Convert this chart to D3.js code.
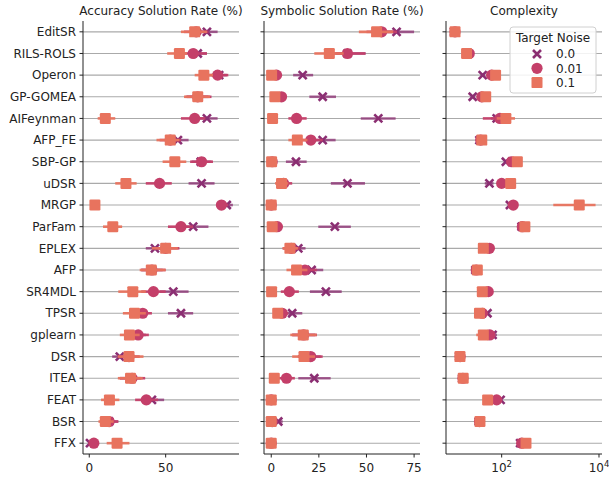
<!DOCTYPE html>
<html>
<head>
<meta charset="utf-8">
<script src="https://cdn.jsdelivr.net/npm/d3@7"></script>
<style>
  body { margin: 0; background: #fff; }
  text { font-family: "DejaVu Sans", sans-serif; fill: #222; }
</style>
</head>
<body>
<div id="chart"></div>
<script>
// 방법 목록
const methods = ["EditSR", "RILS-ROLS", "Operon", "GP-GOMEA", "AIFeynman", "AFP_FE", "SBP-GP", "uDSR", "MRGP", "ParFam",
  "EPLEX", "AFP", "SR4MDL", "TPSR", "gplearn", "DSR", "ITEA", "FEAT", "BSR", "FFX"];

const noiseLevels = ["0.0", "0.01", "0.1"];

// [mean, lo, hi] per method, noise 0.0 / 0.01 / 0.1
const accNoise0 = [[77,72,84],[71,65,77],[85,80,90],[71,64,78],[77,70,84],[58,51,65],[73,67,80],[73.5,65,82],[90,87,94],[68,61,78],
  [43,37,50],[41,34,48],[55,46,65],[60,51.5,68],[30,24,37],[20,15,26],[27,20,34],[41,34,49],[13,8,19],[0.5,0,2]];
const accNoise1 = [[70,62,78],[68,61,77],[84,78,91],[71,63,80],[69,60,76],[53,46,60],[73.5,66,81],[46,37,54],[86.5,83,91],[60,51.5,68],
  [50,43,59],[41,34,50],[42,34,50],[35,28,41],[32,25,39],[26,19,33],[28,20,36.6],[37.3,30,45],[13,8,19],[3,1,6]];
const accNoise2 = [[69,60,77],[59,51,64],[75,69,81],[71,62,79],[10.5,5.5,17],[53,44,59],[56,48,63.5],[24,17,31],[3.7,2,6],[15.4,9,21.5],
  [50,41,58],[40.6,33,50],[28.5,19,37],[29.6,22,37],[26.3,20,33],[26,18.6,35.5],[27,18.7,35],[13.2,7.7,19.7],[10.5,6,16],[18.2,11.4,26.3]];

const symNoise0 = [[65.8,56,75],[40,34,49.5],[16.5,11.5,22],[27,20,34],[56.2,47,65.3],[27,20,33.8],[13,7.7,18.6],[40,31.3,49.2],[0,0,0.5],[33.4,24.7,41.8],
  [14.2,10,18],[21.2,15,27.3],[28.7,20.3,37],[11,6,16.3],[17,11,23],[20,14,26],[22.6,14.2,31.2],[0,0,0.5],[3.7,1,6],[0,0,0.5]];
const symNoise1 = [[58,50,66],[40,33,49.5],[2.8,1,5],[5.4,3,8],[13.3,9,18.6],[20.8,15,27],[0.5,0,1.5],[6.5,3,11],[0,0,0.5],[3.2,1,6],
  [10.5,6,15],[17.7,12,24],[9.5,5,14.5],[5.8,2.5,9],[17,11,24],[20.7,14,27],[8,4,12.4],[0,0,0.5],[0.5,0,2],[0,0,0.5]];
const symNoise2 = [[55.3,46,64],[30.5,22.6,38],[0.2,0,1],[1.9,0.5,4],[0.7,0,2],[13.7,9,19],[0.2,0,1],[5.4,2,9],[0,0,0.5],[0.5,0,2],
  [9.8,6,14],[13.3,8,19],[0.2,0,1],[3.4,1,6],[16.8,10,23.8],[17.2,11,23],[1.6,0,3.5],[0,0,0.5],[0,0,1],[0,0,0.5]];

const cxNoise0 = [[10.5,10,11.5],[20,18,22],[40.7,37,45],[25.4,23,28],[79,60,100],[35,33,37],[122,112,132],[56,45,68],[148,140,158],[257,240,275],
  [52,48,56],[29,27,31],[48,44,52],[51,47,55],[65,58,80],[13.5,12.5,14.5],[15.5,14.5,16.5],[95,88,102],[34,32,36],[240,230,250]];
const cxNoise1 = [[11,10,12],[21.6,19,24],[62,56,68],[39,35,43],[92,41,150],[37,35,39],[160,148,172],[100,90,110],[173,160,188],[265,245,285],
  [56,52,60],[30,28,32],[53,49,57],[40,37,43],[57,50,65],[14,13,15],[16,15,17],[79,73,86],[35,33,37],[257,245,270]];
const cxNoise2 = [[11,10,12],[19,17,21],[75,68,83],[47,43,52],[122,79,188],[39,36,42],[210,195,225],[153,140,166],[3930,1150,8500],[300,280,320],
  [42,39,46],[31.6,29,34],[40,37,43],[35,32,38],[42,30,50],[13.9,13,15],[16.2,15,17.5],[51.5,47,56],[35.8,33,38],[316,295,335]];

const accTicks = [0, 50];
const symTicks = [0, 25, 50, 75];
const cxTicks = [100, 10000];

const width = 609;
const height = 479;
const colors = ["#8b2e72", "#c43f69", "#e8735e"];

const svg = d3.select("#chart").append("svg")
  .attr("width", width)
  .attr("height", height);

const y = d3.scalePoint()
  .domain(methods)
  .range([21, 454])
  .padding(0.5);

const panels = [
  { title: "Accuracy Solution Rate (%)", x0: 83, x1: 239, series: [accNoise0, accNoise1, accNoise2],
    scale: d3.scaleLinear().domain([-4.1, 98]), ticks: accTicks, log: false, labels: true },
  { title: "Symbolic Solution Rate (%)", x0: 264, x1: 420, series: [symNoise0, symNoise1, symNoise2],
    scale: d3.scaleLinear().domain([-3.8, 78.1]), ticks: symTicks, log: false, labels: false },
  { title: "Complexity", x0: 446, x1: 602, series: [cxNoise0, cxNoise1, cxNoise2],
    scale: d3.scaleLog().domain([7.18, 11530]), ticks: cxTicks, log: true, labels: false }
];

const crossPath = "M-4,-4L4,4M-4,4L4,-4";

panels.forEach(p => {
  const x = p.scale.range([p.x0, p.x1]);
  const g = svg.append("g");

  // 가로 격자선
  g.selectAll(".grid")
    .data(methods)
    .enter()
    .append("line")
    .attr("x1", p.x0)
    .attr("x2", p.x1)
    .attr("y1", d => y(d))
    .attr("y2", d => y(d))
    .attr("stroke", "#aaa")
    .attr("stroke-width", 1.1);

  // 제목
  g.append("text")
    .attr("x", (p.x0 + p.x1) / 2)
    .attr("y", 15)
    .attr("text-anchor", "middle")
    .style("font-size", "12px")
    .text(p.title);

  // 시리즈 (오차 막대 + 마커)
  p.series.forEach((data, si) => {
    const col = colors[si];
    g.selectAll(".err" + si)
      .data(data)
      .enter()
      .append("line")
      .attr("x1", d => x(Math.max(d[1], x.domain()[0])))
      .attr("x2", d => x(d[2]))
      .attr("y1", (d, i) => y(methods[i]))
      .attr("y2", (d, i) => y(methods[i]))
      .attr("stroke", col)
      .attr("stroke-opacity", si === 0 ? 0.75 : 0.95)
      .attr("stroke-width", 2.6);

    const marks = g.selectAll(".mk" + si)
      .data(data)
      .enter()
      .append("g")
      .attr("transform", (d, i) => `translate(${x(Math.max(d[0], x.domain()[0]))},${y(methods[i])})`);

    if (si === 0) {
      marks.append("path")
        .attr("d", crossPath)
        .attr("stroke", col)
        .attr("stroke-width", 2.6)
        .attr("fill", "none");
    } else if (si === 1) {
      marks.append("circle")
        .attr("r", 5.6)
        .attr("fill", col);
    } else {
      marks.append("rect")
        .attr("x", -5.5)
        .attr("y", -5.5)
        .attr("width", 11)
        .attr("height", 11)
        .attr("rx", 1.2)
        .attr("fill", col);
    }
  });

  // 축선
  g.append("line")
    .attr("x1", p.x0).attr("x2", p.x0)
    .attr("y1", 21).attr("y2", 454)
    .attr("stroke", "#222").attr("stroke-width", 1);
  g.append("line")
    .attr("x1", p.x0).attr("x2", p.x1)
    .attr("y1", 454).attr("y2", 454)
    .attr("stroke", "#222").attr("stroke-width", 1);

  // y 눈금
  g.selectAll(".ytick")
    .data(methods)
    .enter()
    .append("line")
    .attr("x1", p.x0 - 3.5)
    .attr("x2", p.x0)
    .attr("y1", d => y(d))
    .attr("y2", d => y(d))
    .attr("stroke", "#222");

  if (p.labels) {
    g.selectAll(".ylab")
      .data(methods)
      .enter()
      .append("text")
      .attr("x", p.x0 - 7)
      .attr("y", d => y(d))
      .attr("dy", "0.35em")
      .attr("text-anchor", "end")
      .style("font-size", "12px")
      .text(d => d);
  }

  // x 눈금
  g.selectAll(".xtick")
    .data(p.ticks)
    .enter()
    .append("line")
    .attr("x1", d => x(d))
    .attr("x2", d => x(d))
    .attr("y1", 454)
    .attr("y2", 457.5)
    .attr("stroke", "#222");

  const xl = g.selectAll(".xlab")
    .data(p.ticks)
    .enter()
    .append("text")
    .attr("x", d => x(d))
    .attr("y", 472)
    .attr("text-anchor", "middle")
    .style("font-size", "12px");

  if (p.log) {
    xl.text("10");
    xl.append("tspan")
      .attr("dy", -5)
      .style("font-size", "8.5px")
      .text(d => Math.round(Math.log10(d)));
  } else {
    xl.text(d => d);
  }
});

// 범례
const legend = svg.append("g").attr("transform", "translate(510,27)");
legend.append("rect")
  .attr("width", 86)
  .attr("height", 66)
  .attr("rx", 3)
  .attr("fill", "#fff")
  .attr("fill-opacity", 0.85)
  .attr("stroke", "#d0d0d0");
legend.append("text")
  .attr("x", 43)
  .attr("y", 15)
  .attr("text-anchor", "middle")
  .style("font-size", "12px")
  .text("Target Noise");

const items = legend.selectAll(".item")
  .data(noiseLevels)
  .enter()
  .append("g")
  .attr("transform", (d, i) => `translate(27,${27 + i * 14.3})`);

items.each(function (d, i) {
  const it = d3.select(this);
  if (i === 0) {
    it.append("path").attr("d", crossPath).attr("stroke", colors[0]).attr("stroke-width", 2.6).attr("fill", "none");
  } else if (i === 1) {
    it.append("circle").attr("r", 5.6).attr("fill", colors[1]);
  } else {
    it.append("rect").attr("x", -5.5).attr("y", -5.5).attr("width", 11).attr("height", 11).attr("rx", 1.2).attr("fill", colors[2]);
  }
  it.append("text")
    .attr("x", 19)
    .attr("dy", "0.35em")
    .style("font-size", "12px")
    .text(d);
});
</script>
</body>
</html>
